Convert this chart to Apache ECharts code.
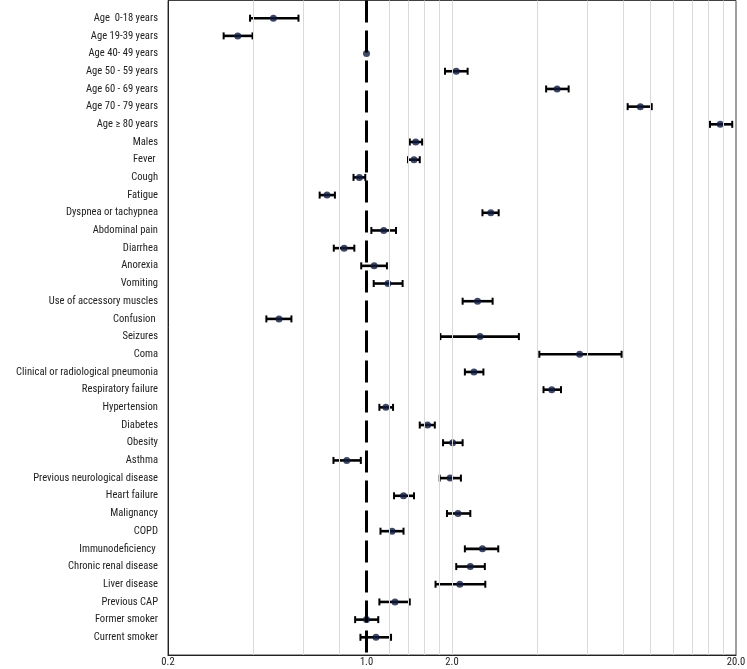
<!DOCTYPE html>
<html><head><meta charset="utf-8">
<script src="https://cdn.jsdelivr.net/npm/echarts@6/dist/echarts.min.js"></script>
<style>html,body{margin:0;padding:0;background:#fff}#c{width:747px;height:669px}</style>
</head><body><div id="c"></div>
<script>
const categories = [
  'Age  0-18 years', 'Age 19-39 years', 'Age 40- 49 years', 'Age 50 - 59 years',
  'Age 60 - 69 years', 'Age 70 - 79 years', 'Age \u2265 80 years', 'Males', 'Fever ',
  'Cough', 'Fatigue', 'Dyspnea or tachypnea', 'Abdominal pain', 'Diarrhea', 'Anorexia',
  'Vomiting', 'Use of accessory muscles', 'Confusion ', 'Seizures', 'Coma',
  'Clinical or radiological pneumonia', 'Respiratory failure', 'Hypertension', 'Diabetes',
  'Obesity', 'Asthma', 'Previous neurological disease', 'Heart failure', 'Malignancy',
  'COPD', 'Immunodeficiency ', 'Chronic renal disease', 'Liver disease', 'Previous CAP',
  'Former smoker', 'Current smoker'
];
const estimates = [0.47, 0.352, 1.0, 2.07, 4.69, 9.21, 17.6, 1.49, 1.47, 0.944, 0.726, 2.74,
  1.15, 0.834, 1.064, 1.19, 2.46, 0.492, 2.51, 5.63, 2.39, 4.49, 1.17, 1.64, 2.01, 0.852,
  1.97, 1.35, 2.10, 1.23, 2.56, 2.32, 2.13, 1.26, 1.0, 1.08];
const lower = [0.389, 0.314, null, 1.89, 4.29, 8.31, 16.2, 1.42, 1.40, 0.90, 0.684, 2.56,
  1.04, 0.767, 0.958, 1.06, 2.18, 0.444, 1.82, 4.06, 2.22, 4.20, 1.11, 1.54, 1.86, 0.765,
  1.81, 1.25, 1.92, 1.12, 2.22, 2.07, 1.75, 1.11, 0.912, 0.952];
const upper = [0.576, 0.397, null, 2.27, 5.15, 10.1, 19.4, 1.57, 1.54, 0.99, 0.774, 2.92,
  1.27, 0.906, 1.18, 1.34, 2.78, 0.544, 3.44, 7.91, 2.58, 4.84, 1.24, 1.74, 2.18, 0.955,
  2.15, 1.47, 2.32, 1.35, 2.91, 2.61, 2.62, 1.42, 1.10, 1.22];
const xTickLabels = [0.2, 1.0, 2.0, 20.0];
const gridValues = [0.4, 0.6, 0.8, 1.2, 1.4, 1.6, 1.8, 2, 4, 6, 8, 10, 12, 14, 16, 18];
const referenceValue = 1;

const FONT = '"Roboto Condensed", "DejaVu Sans Condensed", sans-serif';
const yData = [''].concat(categories, ['']);
const errData = [];
categories.forEach((c, i) => { if (lower[i] != null) errData.push([lower[i], i + 1, upper[i]]); });
const ptData = estimates.map((v, i) => [v, i + 1]);

const chart = echarts.init(document.getElementById('c'));
chart.setOption({
  animation: false,
  grid: { left: 168, right: 11, top: 0.5, bottom: 14, show: true, borderColor: '#404040', borderWidth: 1,
    containLabel: false, outerBoundsMode: 'none' },
  xAxis: {
    type: 'log', logBase: 10, min: 0.2, max: 20,
    axisLine: { show: true, lineStyle: { color: '#222', width: 1 } },
    axisTick: { show: false },
    splitLine: { show: false },
    axisLabel: { customValues: xTickLabels, formatter: v => Number(v).toFixed(1),
      color: '#222', fontFamily: FONT, fontSize: 10.6, margin: 2 }
  },
  yAxis: {
    type: 'category', data: yData, inverse: true, boundaryGap: false,
    axisLine: { show: true, lineStyle: { color: '#222', width: 1 } },
    axisTick: { show: false },
    splitLine: { show: false },
    axisLabel: { interval: 0, color: '#222', fontFamily: FONT, fontSize: 10.6, margin: 10 }
  },
  series: [
    {
      type: 'line', data: [], z: 1, silent: true,
      markLine: { silent: true, symbol: 'none', label: { show: false },
        lineStyle: { color: '#d9d9d9', width: 1, type: 'solid' },
        data: gridValues.map(v => ({ xAxis: v })) }
    },
    {
      type: 'line', data: [], z: 2, silent: true,
      markLine: { silent: true, symbol: 'none', label: { show: false },
        lineStyle: { color: '#000', width: 3, type: [22, 8] },
        data: [{ xAxis: referenceValue }] }
    },
    {
      type: 'custom', z: 3, data: errData, encode: { x: [0, 2], y: 1 },
      renderItem: function (params, api) {
        const y = api.value(1);
        const lo = api.coord([api.value(0), y]);
        const hi = api.coord([api.value(2), y]);
        const h = 3.5;
        return { type: 'group', children: [
          { type: 'line', shape: { x1: lo[0], y1: lo[1], x2: hi[0], y2: hi[1] }, style: { stroke: '#000', lineWidth: 2.6 } },
          { type: 'line', shape: { x1: lo[0], y1: lo[1] - h, x2: lo[0], y2: lo[1] + h }, style: { stroke: '#000', lineWidth: 2 } },
          { type: 'line', shape: { x1: hi[0], y1: hi[1] - h, x2: hi[0], y2: hi[1] + h }, style: { stroke: '#000', lineWidth: 2 } }
        ] };
      }
    },
    {
      type: 'scatter', z: 4, data: ptData, symbol: 'circle', symbolSize: 7,
      itemStyle: { color: '#0f1c3f', borderWidth: 0 }
    }
  ]
});
</script>
</body></html>
